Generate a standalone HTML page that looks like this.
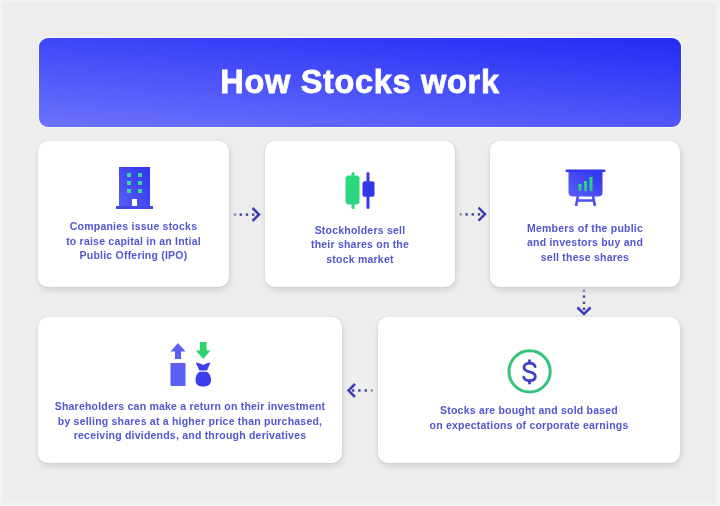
<!DOCTYPE html>
<html>
<head>
<meta charset="utf-8">
<style>
html,body{margin:0;padding:0;}
body{width:720px;height:506px;background:#ededed;position:relative;overflow:hidden;font-family:"Liberation Sans",sans-serif;}
.hdr{position:absolute;left:39px;top:38px;width:642px;height:89px;border-radius:9px;box-shadow:0 0 0 1px rgba(255,255,255,0.55);
background:linear-gradient(184.8deg,rgb(35,43,244) 0%,rgb(108,115,252) 100%);}
.title{position:absolute;left:0;width:720px;top:63px;text-align:center;color:#fff;font-weight:bold;font-size:32.5px;line-height:38px;letter-spacing:0.68px;-webkit-text-stroke:0.8px #fff;filter:blur(0.3px);}
.card{position:absolute;background:#fff;border-radius:10px;box-shadow:0 0 2px rgba(0,0,0,0.08),1px 3px 6px rgba(0,0,0,0.12);}
.txt{position:absolute;text-align:center;color:#5356d0;filter:blur(0.5px);font-weight:bold;font-size:10.5px;line-height:14.5px;letter-spacing:0.22px;white-space:nowrap;}
svg{position:absolute;overflow:visible;filter:blur(0.35px);}
</style>
</head>
<body>
<div style="position:absolute;left:0;top:0;width:720px;height:506px;box-sizing:border-box;border-style:solid;border-color:#f3f3f3;border-width:2px 4px 3px 3px;"></div>
<div class="hdr"></div>
<div class="title">How Stocks work</div>

<div class="card" style="left:38px;top:141px;width:191px;height:146px;"></div>
<div class="card" style="left:265px;top:141px;width:190px;height:146px;"></div>
<div class="card" style="left:490px;top:141px;width:190px;height:146px;"></div>
<div class="card" style="left:38px;top:317px;width:304px;height:146px;"></div>
<div class="card" style="left:378px;top:317px;width:302px;height:146px;"></div>

<div class="txt" style="left:38px;width:191px;top:219px;">Companies issue stocks<br>to raise capital in an Intial<br>Public Offering (IPO)</div>
<div class="txt" style="left:265px;width:190px;top:222.5px;">Stockholders sell<br>their shares on the<br>stock market</div>
<div class="txt" style="left:490px;width:190px;top:220.5px;">Members of the public<br>and investors buy and<br>sell these shares</div>
<div class="txt" style="left:38px;width:304px;top:399px;">Shareholders can make a return on their investment<br>by selling shares at a higher price than purchased,<br>receiving dividends, and through derivatives</div>
<div class="txt" style="left:378px;width:302px;top:403px;">Stocks are bought and sold based<br>on expectations of corporate earnings</div>

<!-- building icon -->
<svg style="left:0;top:0" width="720" height="506" viewBox="0 0 720 506">
<defs>
<linearGradient id="gb" x1="1" y1="0" x2="0" y2="1">
<stop offset="0" stop-color="#2f33ee"/><stop offset="1" stop-color="#5a5ff6"/></linearGradient>
<linearGradient id="gg" x1="0" y1="0" x2="0" y2="1">
<stop offset="0" stop-color="#27e07e"/><stop offset="1" stop-color="#2fb8a0"/></linearGradient>
<linearGradient id="gc" x1="0" y1="0" x2="0" y2="1">
<stop offset="0" stop-color="#2bdb7c"/><stop offset="1" stop-color="#2dd482"/></linearGradient>
</defs>
<!-- building -->
<rect x="119" y="167" width="31" height="41" fill="url(#gb)"/>
<rect x="116" y="206" width="37" height="3" fill="#4448e6"/>
<g fill="#38d8a0">
<rect x="127" y="173" width="4" height="4"/><rect x="138" y="173" width="4" height="4"/>
<rect x="127" y="181" width="4" height="4"/><rect x="138" y="181" width="4" height="4"/>
<rect x="127" y="189" width="4" height="4"/><rect x="138" y="189" width="4" height="4"/>
</g>
<rect x="132" y="199" width="5" height="7" fill="#fff"/>

<!-- candlesticks -->
<rect x="351.5" y="172" width="3" height="37" rx="1.5" fill="#2bd87e"/>
<path d="M347.5 175.5 H357.5 L359.5 177.5 V202.5 L357.5 204.5 H347.5 L345.5 202.5 V177.5 Z" fill="url(#gc)"/>
<rect x="366.5" y="172" width="3" height="37" rx="1.5" fill="#3438ea"/>
<rect x="362.5" y="181.3" width="12" height="15.5" rx="2" fill="#3438ea"/>
<!-- presentation board -->
<path d="M568.5 171 H602.5 V192 Q602.5 196.5 598 196.5 H573 Q568.5 196.5 568.5 192 Z" fill="url(#gb)"/>
<rect x="565.5" y="169.5" width="40" height="2.5" rx="1" fill="#3337ee"/>
<rect x="578.5" y="184" width="3" height="7" fill="url(#gg)"/>
<rect x="584" y="181" width="3" height="10" fill="url(#gg)"/>
<rect x="589.5" y="177" width="3" height="14" fill="url(#gg)"/>
<path d="M578 196 L576 206 M593 196 L595 206 M577 200.5 H594" stroke="#4c50e8" stroke-width="2.6" fill="none"/>

<!-- dollar -->
<circle cx="529.6" cy="371.4" r="20.6" fill="none" stroke="#36c47c" stroke-width="3"/>
<path d="M535.2 366.6 C534.5 364.4 532.4 363.1 529.5 363.1 C526.2 363.1 524 364.9 524 367.5 C524 370.3 526.5 371.2 529.6 371.9 C532.8 372.6 535.3 373.7 535.3 376.5 C535.3 379.1 532.9 380.7 529.5 380.7 C526.5 380.7 524.5 379.4 523.7 377.1" fill="none" stroke="#3f40c8" stroke-width="2.8" stroke-linecap="round"/>
<path d="M529.5 360.6 V363 M529.5 380.7 V383.2" stroke="#3f40c8" stroke-width="2.8" stroke-linecap="round"/>
<!-- shares icon -->
<path d="M178 343 L185.5 351.5 H181 V359 H175 V351.5 H170.5 Z" fill="#5a5ef2"/>
<rect x="170.5" y="363" width="15" height="23" fill="#5c60f2"/>
<path d="M200 342 H206.5 V350.5 H210.5 L203.2 359 L195.8 350.5 H200 Z" fill="#2ad46a"/>
<path d="M195.8 362.4 L199.5 363.2 L203.2 365 L206.9 363.2 L210.5 362.4 L207 370.6 H199.4 Z" fill="#3a3eec"/>
<path d="M199.5 371.8 H207 C210 374 211 377 211 380 C211 384.5 208 386.5 203.2 386.5 C198.5 386.5 195.5 384.5 195.5 380 C195.5 377 196.5 374 199.5 371.8 Z" fill="#3a3eec"/>

<!-- arrows -->
<g fill="#44449e">
<rect x="233.8" y="213.4" width="2.3" height="2.3" opacity="0.6"/><rect x="239.6" y="213.4" width="2.4" height="2.4"/><rect x="245.8" y="213.4" width="2.4" height="2.4"/><rect x="252" y="213.4" width="2.4" height="2.4"/>
<rect x="459.6" y="213.2" width="2.3" height="2.3" opacity="0.6"/><rect x="465.4" y="213.2" width="2.4" height="2.4"/><rect x="471.6" y="213.2" width="2.4" height="2.4"/><rect x="477.8" y="213.2" width="2.4" height="2.4"/>
<rect x="582.8" y="289.8" width="2.3" height="2.3" opacity="0.6"/><rect x="582.8" y="295.4" width="2.4" height="2.4"/><rect x="582.8" y="301.6" width="2.4" height="2.4"/><rect x="582.8" y="307.6" width="2.4" height="2.4"/>
<rect x="352" y="389.3" width="2.4" height="2.4"/><rect x="358.2" y="389.3" width="2.4" height="2.4"/><rect x="364.6" y="389.3" width="2.4" height="2.4"/><rect x="370.6" y="389.3" width="2.3" height="2.3" opacity="0.6"/>
</g>
<g stroke="#3c3db9" stroke-width="2.5" fill="none" stroke-linecap="butt">
<path d="M252.5 208 L259 214.5 L252.5 221"/>
<path d="M478.5 207.7 L485 214.2 L478.5 220.7"/>
<path d="M577.5 307.5 L584 314 L590.5 307.5"/>
<path d="M355 384 L348.5 390.5 L355 397"/>
</g>
</svg>
</body>
</html>
